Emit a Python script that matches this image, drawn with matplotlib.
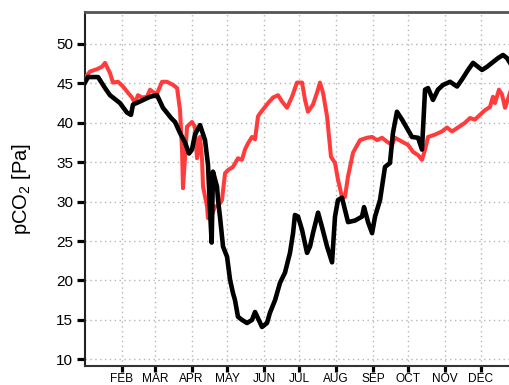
import matplotlib
matplotlib.use('Agg')
import matplotlib.pyplot as plt

plt.rcParams['font.family'] = ['Liberation Sans', 'DejaVu Sans']
plt.rcParams['mathtext.fontset'] = 'custom'
plt.rcParams['mathtext.rm'] = 'Liberation Sans'

# ---- data (day of year, pCO2 in Pa) ----
month_labels = ['FEB', 'MAR', 'APR', 'MAY', 'JUN', 'JUL', 'AUG', 'SEP', 'OCT', 'NOV', 'DEC']
month_start_doy = [32, 60, 91, 121, 152, 182, 213, 244, 274, 305, 335]
y_ticks = [10, 15, 20, 25, 30, 35, 40, 45, 50]

black_day = [1, 3.5, 12, 17.9, 22.1, 30.5, 36.4, 39.8, 41.5, 47.4, 55.9, 61.8, 66.8, 73.7, 77.0,
             81.2, 85.4, 88.8, 91.3, 93.8, 98.1, 102.3, 104.8, 106.5, 107.9, 109.0, 112.4, 113.3,
             114.9, 117.5, 120.9, 123.4, 125.9, 127.6, 130.1, 133.5, 137.7, 142.0, 144.5, 147.0,
             150.4, 154.6, 157.1, 161.4, 165.6, 169.8, 174.0, 176.6, 178.2, 180.8, 184.2, 188.4,
             190.9, 193.4, 197.7, 201.0, 205.3, 209.5, 212.0, 214.5, 217.9, 223.0, 228.9, 234.8,
             236.5, 239.9, 243.3, 245.8, 250.0, 254.2, 258.4, 260.9, 264.3, 268.6, 272.8, 277.0,
             282.1, 285.4, 288.0, 290.5, 294.7, 298.9, 303.2, 309.1, 315.0, 319.2, 324.3, 328.5,
             336.1, 340.3, 344.5, 349.6, 353.8, 357.2, 359.7]
black_val = [45.1, 45.8, 45.8, 44.4, 43.5, 42.5, 41.3, 41.0, 42.3, 42.7, 43.3, 43.5, 41.9, 40.6, 40.1,
             38.7, 37.5, 36.1, 36.6, 38.5, 39.7, 37.8, 34.7, 29.0, 24.8, 33.8, 31.9, 30.2,
             28.1, 24.3, 23.0, 20.1, 18.4, 17.5, 15.4, 15.0, 14.6, 15.0, 16.0, 15.2,
             14.1, 14.6, 15.9, 17.5, 19.7, 21.0, 23.5, 26.0, 28.3, 28.1, 26.4, 23.5,
             24.3, 26.0, 28.6, 26.8, 24.3, 22.3, 28.1, 30.2, 30.5, 27.4, 27.6, 28.1,
             29.3, 27.4, 26.0, 28.1, 30.2, 34.4, 34.9, 38.7, 41.4, 40.4, 39.3, 38.2,
             38.1, 36.6, 44.2, 44.4, 42.9, 44.2, 44.8, 45.2, 44.6, 45.5, 46.7, 47.6,
             46.7, 47.1, 47.6, 48.2, 48.6, 48.2, 47.6]

red_day = [1, 5.2, 11.1, 15.3, 17.9, 22.1, 24.6, 28.9, 33.1, 37.3, 40.7, 43.2, 45.7, 49.1, 53.3,
           55.9, 58.4, 61.8, 66.0, 70.2, 75.3, 78.7, 81.2, 82.9, 83.7, 87.1, 91.3, 93.8, 95.5,
           98.1, 99.8, 100.6, 104.0, 104.8, 108.2, 110.7, 113.3, 116.6, 119.2, 121.7, 125.9,
           130.1, 133.5, 136.0, 138.6, 141.9, 144.5, 147.0, 148.7, 152.9, 155.5, 159.7, 163.9,
           167.3, 171.5, 175.7, 179.9, 184.2, 186.7, 189.2, 193.4, 196.8, 199.3, 201.9, 205.3,
           208.6, 212.0, 214.5, 217.9, 220.4, 223.0, 227.2, 233.1, 239.0, 243.3, 247.5, 251.7,
           255.9, 260.1, 262.6, 268.6, 273.6, 277.9, 282.1, 285.4, 288.0, 290.5, 296.4, 302.3,
           306.5, 310.8, 315.8, 321.7, 325.9, 330.1, 334.3, 338.6, 342.8, 345.3, 347.0, 350.4,
           352.9, 355.5, 359.7]
red_val = [45.7, 46.5, 46.8, 47.1, 47.6, 46.3, 45.1, 45.2, 44.6, 43.8, 43.2, 42.5, 43.5, 43.2, 43.3,
           44.2, 43.9, 43.7, 45.2, 45.2, 44.8, 44.4, 41.6, 36.6, 31.7, 39.5, 40.1, 39.5, 35.5,
           38.2, 35.3, 31.9, 29.4, 27.9, 28.3, 29.4, 29.4, 30.2, 33.6, 34.0, 34.4,
           35.5, 35.3, 36.6, 37.4, 38.2, 37.9, 40.8, 41.2, 42.0, 42.5, 43.2, 43.5,
           42.7, 41.9, 43.3, 45.1, 45.1, 42.9, 41.4, 42.3, 43.8, 45.1, 43.8, 40.8,
           35.7, 34.9, 32.8, 30.6, 30.6, 33.2, 36.2, 37.8, 38.1, 38.2, 37.8, 38.1,
           37.6, 37.2, 38.1, 37.6, 37.2, 36.3, 35.9, 35.3, 36.6, 38.2, 38.5, 38.9,
           39.4, 38.9, 39.4, 40.0, 40.6, 40.4, 41.0, 41.6, 42.0, 43.3, 42.5, 44.2,
           43.6, 41.9, 43.8]

# ---- figure ----
fig = plt.figure(figsize=(5.1, 3.85), dpi=100)
ax = fig.add_axes([85 / 510, 19 / 385, 425 / 510, 354 / 385])

ax.plot(red_day, red_val, color='#ff3b3b', lw=2.9, solid_joinstyle='round', zorder=3)
ax.plot(black_day, black_val, color='black', lw=3.3, solid_joinstyle='round', zorder=4)

ax.set_xlim(1, 359.7)
ax.set_ylim(9.15, 54.05)

ax.set_xticks(month_start_doy)
ax.set_xticklabels(month_labels, fontsize=8.6)
ax.set_yticks(y_ticks)
ax.set_yticklabels([str(v) for v in y_ticks], fontsize=11)

ax.tick_params(axis='both', direction='out', width=2.3, color='black')
ax.tick_params(axis='x', length=4.4, pad=0.6)
ax.tick_params(axis='y', length=5.5, pad=3)

ax.grid(True, color='#b5b5b5', linestyle=(0, (1, 2.5)), linewidth=1.0, zorder=0)
ax.set_axisbelow(True)

ax.spines['right'].set_visible(False)
ax.spines['top'].set_color('#555555')
ax.spines['top'].set_linewidth(2.0)
ax.spines['left'].set_color('#222222')
ax.spines['left'].set_linewidth(1.5)
ax.spines['bottom'].set_color('#333333')
ax.spines['bottom'].set_linewidth(1.5)

ax.set_ylabel(r'pCO$_{\mathregular{2}}$ [Pa]', fontsize=14.5)
ax.yaxis.set_label_coords(-0.122, 0.5)

fig.savefig('out.png', dpi=100)
